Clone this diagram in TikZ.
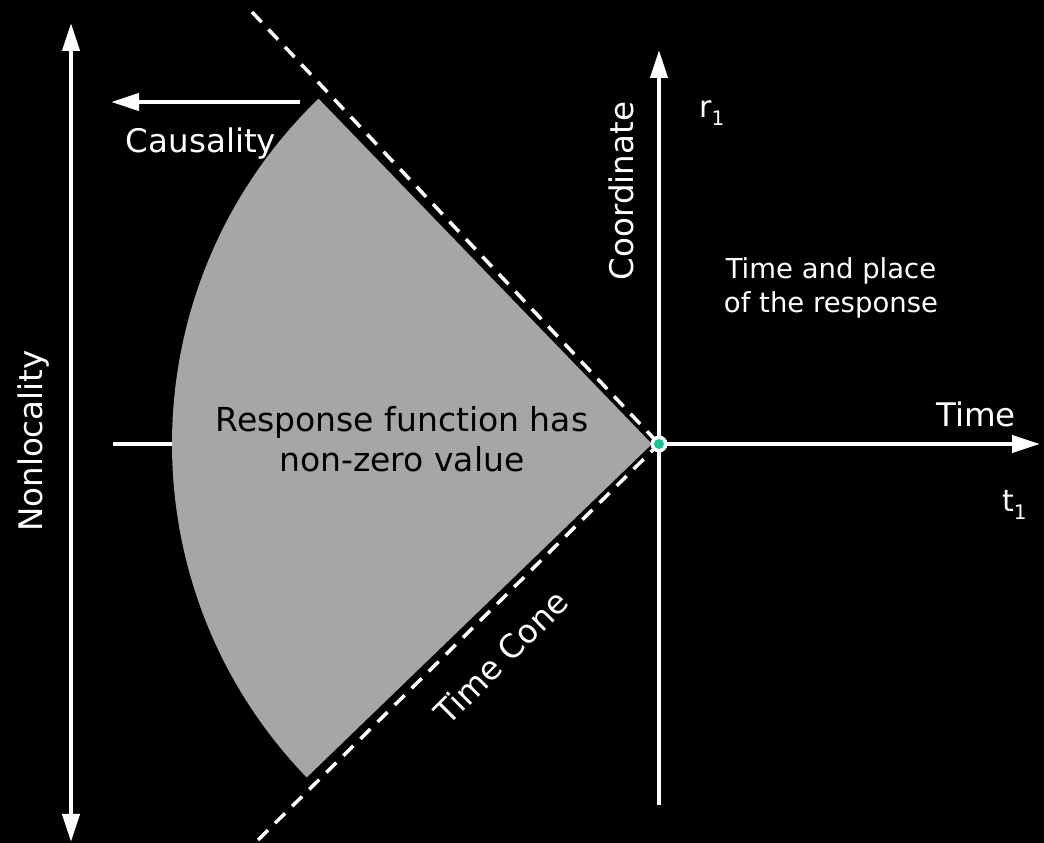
\documentclass[tikz,border=0pt]{standalone}
\usepackage{fontspec}
\setmainfont{DejaVu Sans}
\usetikzlibrary{arrows.meta}
\definecolor{regiongray}{RGB}{166,166,166}
\definecolor{dotgreen}{RGB}{20,196,150}
\newcommand{\lowsub}[1]{\raisebox{-8pt}{\fontsize{20}{20}\selectfont #1}}
\begin{document}
\begin{tikzpicture}[x=1pt,y=1pt,
  axisline/.style={white,line width=4pt},
  tipend/.style={-{Triangle[length=28pt,width=17pt]}},
  bothtips/.style={{Triangle[length=28pt,width=17pt]}-{Triangle[length=28pt,width=17pt]}},
  coneline/.style={white,line width=3.5pt,dash pattern=on 14pt off 10pt},
  lbl/.style={text=white,inner sep=0pt,font=\fontsize{32.5}{39}\selectfont},
  smalllbl/.style={text=white,inner sep=0pt,align=center,font=\fontsize{27.5}{34}\selectfont},
  sublbl/.style={text=white,inner sep=0pt,font=\fontsize{30}{36}\selectfont},
  regionlbl/.style={text=black,inner sep=0pt,align=center,font=\fontsize{33}{40}\selectfont}
]
\fill[black] (0,0) rectangle (1044,843);
\useasboundingbox (0,0) rectangle (1044,843);

\coordinate (O) at (659,399);
\coordinate (G) at (652,399);
\coordinate (ybot) at (659,38);
\coordinate (ytop) at (659,793);
\coordinate (xend) at (1040,399);
\coordinate (nltop) at (71,820);
\coordinate (nlbot) at (71,1);
\coordinate (castart) at (300,741);
\coordinate (caend) at (111,741);
\coordinate (ticka) at (113,399);
\coordinate (tickb) at (172,399);
\coordinate (conetop) at (252,831);
\coordinate (conebot) at (258,3);

% response region
\fill[regiongray] (G) -- ++(134:480) arc[start angle=134,end angle=224,radius=480] -- cycle;

% time cone
\draw[coneline] (conetop) -- (O);
\draw[coneline] (conebot) -- (O);

% axes and arrows
\draw[axisline,tipend] (ybot) -- (ytop);
\draw[axisline,tipend] (O) -- (xend);
\draw[axisline,bothtips] (nlbot) -- (nltop);
\draw[axisline,tipend] (castart) -- (caend);
\draw[axisline] (ticka) -- (tickb);

% origin dot
\node[circle,fill=white,minimum size=17pt,inner sep=0pt] (origin) at (O) {};
\fill[dotgreen] (O) circle (5);

% labels
\node[lbl,anchor=base] (causality) at (201,690) {Causality};
\node[lbl,anchor=base,rotate=90] (coordinate) at (633,652) {Coordinate};
\node[lbl,anchor=base,rotate=90] (nonlocality) at (42,402) {Nonlocality};
\node[lbl,anchor=base] (time) at (976,416) {Time};
\node[lbl,anchor=center,rotate=45] (timecone) at (501,186) {Time Cone};
\node[regionlbl] (response) at (402,403.5) {Response function has\\non-zero value};
\node[smalllbl] (place) at (831,555) {Time and place\\of the response};
\node[sublbl,anchor=base west] (r1) at (699,725) {r\lowsub{1}};
\node[sublbl,anchor=base west] (t1) at (1002,331) {t\lowsub{1}};
\end{tikzpicture}
\end{document}
